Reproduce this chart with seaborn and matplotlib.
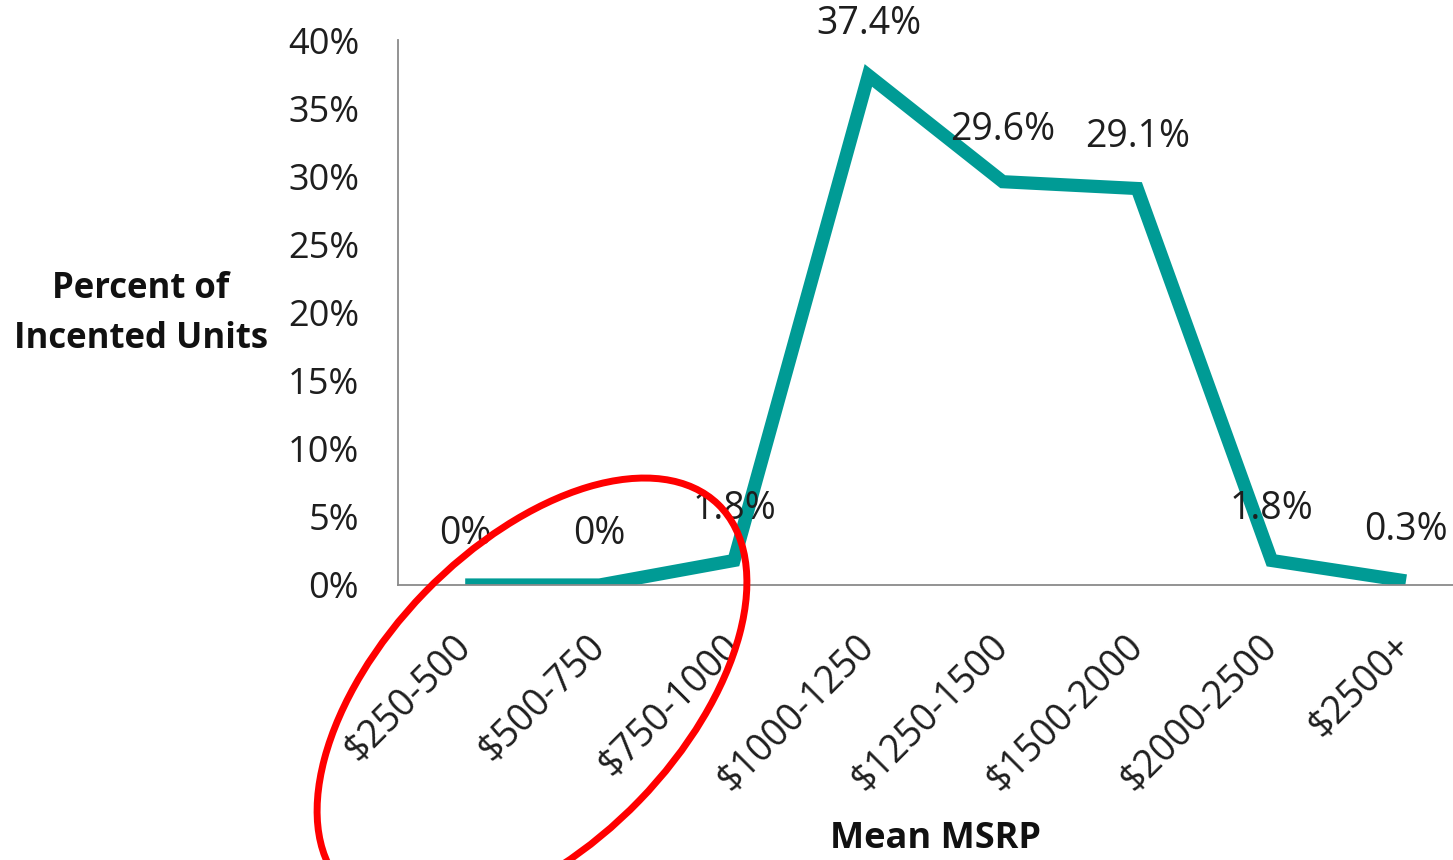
import matplotlib
matplotlib.use("Agg")
import matplotlib.pyplot as plt
from matplotlib.patches import Ellipse
import seaborn as sns
import pandas as pd

# ---- data ----
categories = ["$250-500", "$500-750", "$750-1000", "$1000-1250",
              "$1250-1500", "$1500-2000", "$2000-2500", "$2500+"]
values = [0.0, 0.0, 0.018, 0.374, 0.296, 0.291, 0.018, 0.003]
point_labels = ["0%", "0%", "1.8%", "37.4%", "29.6%", "29.1%", "1.8%", "0.3%"]
y_ticks = [0.0, 0.05, 0.10, 0.15, 0.20, 0.25, 0.30, 0.35, 0.40]
y_tick_labels = ["0%", "5%", "10%", "15%", "20%", "25%", "30%", "35%", "40%"]
x_title = "Mean MSRP"
y_title = "Percent of\nIncented Units"

sns.set_theme(style="white")
plt.rcParams["font.family"] = ["Open Sans", "DejaVu Sans"]

W, H = 1453, 860
fig = plt.figure(figsize=(W / 100, H / 100), dpi=100)
ax = fig.add_axes([398 / W, 1 - 585 / H, (W - 398) / W, (585 - 40) / H])

df = pd.DataFrame({"cat": categories, "val": values})
sns.lineplot(data=df, x="cat", y="val", sort=False, ax=ax, color="#009B95",
             linewidth=9.5, solid_joinstyle="miter", solid_capstyle="butt")

ax.set_xlim(-0.5, 7.35)
ax.set_ylim(0, 0.40)
ax.set_yticks(y_ticks)
ax.set_yticklabels(y_tick_labels)
ax.set_xticks(range(len(categories)))
ax.set_xticklabels(categories, rotation=45, ha="right", va="center",
                   rotation_mode="anchor")
ax.tick_params(axis="both", length=0, colors="#1e1e1e")
ax.tick_params(axis="y", pad=28, labelsize=26)
ax.tick_params(axis="x", pad=40, labelsize=27)

for s in ["top", "right"]:
    ax.spines[s].set_visible(False)
for s in ["left", "bottom"]:
    ax.spines[s].set_color("#8a8a8a")
    ax.spines[s].set_linewidth(1.3)
ax.grid(False)

for i, (v, lab) in enumerate(zip(values, point_labels)):
    ax.annotate(lab, xy=(i, v), xytext=(0, 37), textcoords="offset points",
                ha="center", va="center", fontsize=27, color="#1e1e1e")

ax.set_xlabel(x_title, fontsize=26, fontweight="bold", color="#111111", va="center")
ax.xaxis.set_label_coords((935 - 398) / (W - 398), (585 - 839) / 545)
ax.set_ylabel(y_title, fontsize=25, fontweight="bold", color="#111111",
              rotation=0, ha="center", va="center", linespacing=1.55)
ax.yaxis.set_label_coords((141 - 398) / (W - 398), (585 - 314) / 545)

# red annotation ellipse (in inches from the figure's lower-left corner)
ell = Ellipse((5.32, 1.635), width=5.35, height=2.99, angle=45.9,
              transform=fig.dpi_scale_trans, fill=False, edgecolor="#FF0000",
              linewidth=5, clip_on=False)
fig.add_artist(ell)

fig.savefig("out.png", dpi=100)
